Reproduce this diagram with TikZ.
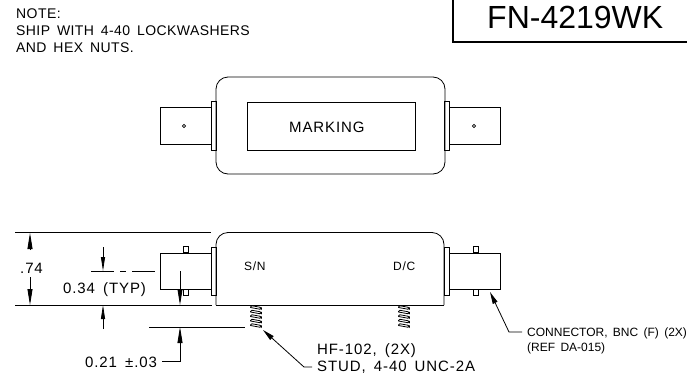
\documentclass[tikz,border=0pt]{standalone}
\usepackage{fontspec}
\setmainfont{Liberation Sans}
\newfontfamily\cadfont[LetterSpace=6,WordSpace=1.6]{Liberation Sans}
\newfontfamily\notefont[LetterSpace=3,WordSpace=1.6]{Liberation Sans}
\newfontfamily\tightfont[WordSpace=1.6]{Liberation Sans}
\usetikzlibrary{arrows, arrows.meta}

\begin{document}
\begin{tikzpicture}[
		x=1pt, y=-1pt,
		partbox/.style={draw, line width=0.8pt, inner sep=0pt, minimum width=#1},
		partbox/.default=10pt,
		cadtext/.style={inner sep=0pt, anchor=base west, font=\cadfont\fontsize{15}{15}\selectfont},
		notetext/.style={inner sep=0pt, anchor=base west, font=\notefont\fontsize{14}{14}\selectfont},
		smalltext/.style={inner sep=0pt, anchor=base west, font=\cadfont\fontsize{12}{12}\selectfont},
		conntext/.style={inner sep=0pt, anchor=base west, font=\tightfont\fontsize{12}{12}\selectfont},
		dimline/.style={line width=0.8pt},
		dimarrow/.style={line width=0.8pt, -{Triangle[length=16pt, width=5pt]}},
		thinarrow/.style={line width=0.8pt, -{Triangle[length=14pt, width=4pt]}},
		leader/.style={line width=0.8pt, -{Triangle[length=12pt, width=5pt]}}
	]
		\useasboundingbox (0, 0) rectangle (687, 375);

		% title and note
		\coordinate (titletop) at (453, 0);
		\coordinate (titlecorner) at (453, 42);
		\coordinate (titleend) at (687, 42);
		\draw[line width=1.4pt] (titletop) -- (titlecorner) -- (titleend);
		\node[inner sep=0pt, anchor=base west, font=\fontsize{32}{32}\selectfont] (title) at (487, 28) {FN-4219WK};
		\node[notetext] (note) at (16, 18.5) {NOTE:};
		\node[notetext] (noteship) at (16, 35) {SHIP WITH 4-40 LOCKWASHERS};
		\node[notetext] (notenuts) at (16, 52) {AND HEX NUTS.};

		% top view
		\node[partbox=229pt, minimum height=97pt, rounded corners=12pt] (topbody) at (330.5, 125.5) {};
		\node[partbox=168pt, minimum height=48pt] (marking) at (331, 126) {};
		\node[cadtext] (markingtext) at (289, 132) {MARKING};
		\node[partbox=5pt, minimum height=49pt] (topflangeleft) at (213.5, 125.5) {};
		\node[partbox=5pt, minimum height=49pt] (topflangeright) at (446.5, 125.5) {};
		\node[partbox=51pt, minimum height=37pt] (topconnleft) at (185.5, 125.5) {};
		\node[partbox=51pt, minimum height=37pt] (topconnright) at (474.5, 125.5) {};
		\draw[line width=0.6pt] (184, 126) circle (1.6);
		\draw[line width=0.6pt] (474, 126) circle (1.6);

		% side view
		\draw[line width=0.8pt, rounded corners=12pt] (216, 305) -- (216, 232.5) -- (444, 232.5) -- (444, 305);
		\coordinate (bodyleft) at (216, 305);
		\coordinate (bodyright) at (444, 305);
		\draw[line width=0.8pt] (bodyleft) -- (bodyright);
		\node[smalltext] (sn) at (244, 270) {S/N};
		\node[smalltext] (dc) at (393, 270) {D/C};
		\node[partbox=5pt, minimum height=48pt] (flangeleft) at (213.5, 271) {};
		\node[partbox=5pt, minimum height=48pt] (flangeright) at (446.5, 271) {};
		\node[partbox=51pt, minimum height=36pt] (connleft) at (185.5, 271) {};
		\node[partbox=51pt, minimum height=36pt] (connright) at (474.5, 271) {};
		\foreach \x/\name in {185.5/left, 475.5/right} {
			\node[partbox=5pt, minimum height=6pt, anchor=south] (bumptop\name) at (\x, 253) {};
			\node[partbox=5pt, minimum height=6pt, anchor=north] (bumpbot\name) at (\x, 289) {};
		}

		% studs
		\foreach \x in {256, 404} {
			\foreach \y in {306, 310.5, ..., 325} {
				\draw[line width=0.8pt, rounded corners=1.5pt] (\x-5.5, \y+1.5) -- (\x-5.5, \y-0.5) -- (\x+5.5, \y+1.5) -- (\x+5.5, \y+3.5) -- (\x-5.5, \y+1.5);
			}
		}

		% dimensions
		\coordinate (toptl) at (15, 232.5);
		\coordinate (toptr) at (211, 232.5);
		\coordinate (botl) at (15, 305);
		\coordinate (botr) at (212, 305);
		\draw[dimline] (toptl) -- (toptr);
		\draw[dimline] (botl) -- (botr);
		\draw[dimline] (36, 305) -- (botr);
		\coordinate (sevenup) at (30, 250);
		\coordinate (sevenupend) at (30, 233);
		\coordinate (sevendown) at (30, 277);
		\coordinate (sevendownend) at (30, 305);
		\draw[dimarrow] (sevenup) -- (sevenupend);
		\draw[dimarrow] (sevendown) -- (sevendownend);
		\node[cadtext] (dimseven) at (20, 273) {.74};

		\coordinate (centera) at (91, 271);
		\coordinate (centerb) at (155, 271);
		\draw[dimline, dash pattern=on 23pt off 6pt on 6pt off 6pt] (centera) -- (centerb);
		\coordinate (typdown) at (103, 247);
		\coordinate (typdownend) at (103, 271);
		\coordinate (typup) at (103, 329);
		\coordinate (typupend) at (103, 305);
		\draw[thinarrow] (typdown) -- (typdownend);
		\draw[thinarrow] (typup) -- (typupend);
		\node[cadtext] (dimtyp) at (63, 293) {0.34 (TYP)};

		\coordinate (studa) at (149, 327);
		\coordinate (studb) at (245, 327);
		\draw[dimline] (studa) -- (studb);
		\coordinate (studdown) at (180, 271);
		\coordinate (studdownend) at (180, 305);
		\draw[dimarrow] (studdown) -- (studdownend);
		\node[cadtext] (dimstud) at (85, 367) {0.21 ±.03};
		\coordinate (studup) at (162, 361);
		\coordinate (studturn) at (180, 361);
		\coordinate (studupend) at (180, 327);
		\draw[dimarrow] (studup) -- (studturn) -- (studupend);

		% leaders
		\node[cadtext] (studlabela) at (317, 354) {HF-102, (2X)};
		\node[cadtext] (studlabelb) at (317, 371) {STUD, 4-40 UNC-2A};
		\coordinate (studleader) at (312, 367);
		\coordinate (studleaderturn) at (304, 367);
		\coordinate (studleaderend) at (263, 330);
		\draw[leader] (studleader) -- (studleaderturn) -- (studleaderend);
		\node[conntext] (connlabela) at (527, 336) {CONNECTOR, BNC (F) (2X)};
		\node[conntext] (connlabelb) at (527, 351) {(REF DA-015)};
		\coordinate (connleader) at (522, 332);
		\coordinate (connleaderturn) at (509, 332);
		\coordinate (connleaderend) at (490, 292);
		\draw[leader] (connleader) -- (connleaderturn) -- (connleaderend);
	\end{tikzpicture}
\end{document}
